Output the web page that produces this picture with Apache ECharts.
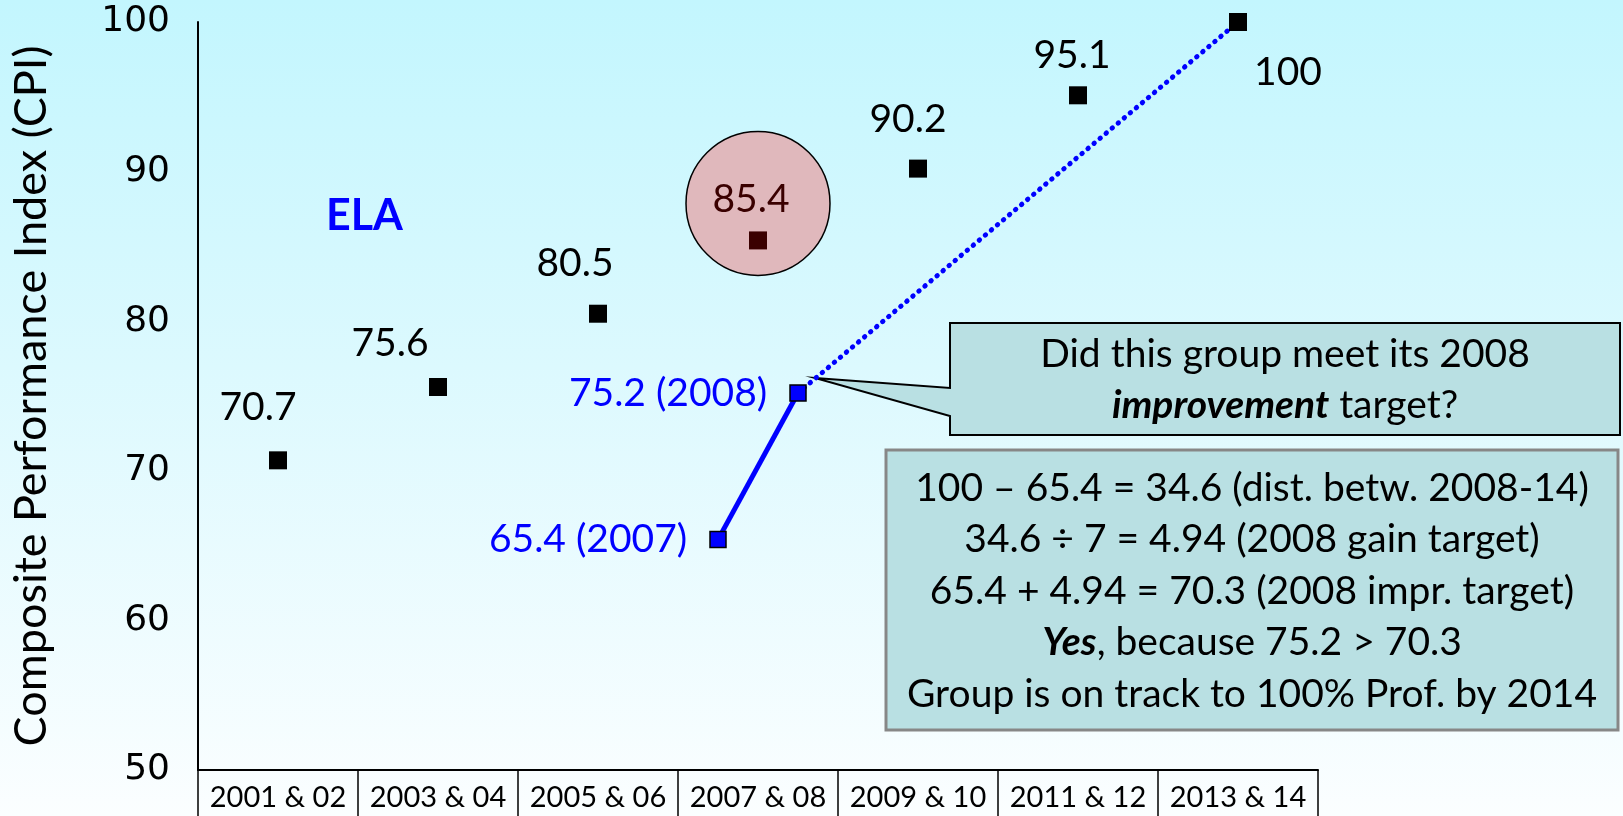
<!DOCTYPE html>
<html>
<head>
<meta charset="utf-8">
<title>ELA CPI</title>
<script src="https://cdn.jsdelivr.net/npm/echarts@6/dist/echarts.min.js"></script>
<style>
html, body { margin: 0; padding: 0; }
#main {
  width: 1623px;
  height: 816px;
  background: linear-gradient(to bottom, #c3f6fe 0%, #dcf9fe 45%, #fbfeff 100%);
}
</style>
</head>
<body>
<div id="main"></div>
<script>
// data
const periods = ['2001 & 02', '2003 & 04', '2005 & 06', '2007 & 08', '2009 & 10', '2011 & 12', '2013 & 14'];
const cpi = [70.7, 75.6, 80.5, 85.4, 90.2, 95.1, 100];
const groupYears = [2007, 2008];
const groupCpi = [65.4, 75.2];
const goalYear = 2013.5;   // middle of the "2013 & 14" period
const goalCpi = 100;
const yMin = 50, yMax = 100, yStep = 10;

const calloutLines = ['Did this group meet its 2008', '{bi|improvement} target?'];
const noteLines = [
  '100 \u2013 65.4 = 34.6 (dist. betw. 2008-14)',
  '34.6 \u00f7 7 = 4.94 (2008 gain target)',
  '65.4 + 4.94 = 70.3 (2008 impr. target)',
  '{bi|Yes}, because 75.2 > 70.3',
  'Group is on track to 100% Prof. by 2014'
];

const body = 'Lato';
const blue = '#0000ff';

// where each black value label sits relative to its marker
const labelOffsets = [[-20, -53], [-48, -44], [-23, -50], [-7, -41], [-10, -49], [-6, -40], [50, 50]];

var dom = document.getElementById('main');
var myChart = echarts.init(dom, null, { renderer: 'canvas' });

const cpiData = periods.map((p, i) => {
  const dark = i === 3;
  return {
    value: [p, cpi[i]],
    itemStyle: { color: dark ? '#3a0000' : '#000' },
    label: { offset: labelOffsets[i], color: dark ? '#3a0000' : '#000' }
  };
});

const groupData = groupYears.map((y, i) => [y, groupCpi[i]]);

var option = {
  animation: false,
  grid: { left: 198, right: 305, top: 22, bottom: 46 },
  xAxis: [
    {
      type: 'category',
      data: periods,
      boundaryGap: true,
      axisLine: { lineStyle: { color: '#000', width: 2 } },
      axisTick: { show: true, interval: 0, length: 48, lineStyle: { color: '#000', width: 1.5 } },
      axisLabel: { interval: 0, margin: 13, fontSize: 29, fontFamily: body, color: '#000' }
    },
    { type: 'value', min: 2000.5, max: 2014.5, show: false }
  ],
  yAxis: {
    type: 'value',
    min: yMin,
    max: yMax,
    interval: yStep,
    name: 'Composite Performance Index (CPI)',
    nameLocation: 'middle',
    nameGap: 144,
    nameTextStyle: { fontSize: 45, fontFamily: body, color: '#000' },
    axisLine: { show: true, lineStyle: { color: '#000', width: 2 } },
    axisTick: { show: false },
    splitLine: { show: false },
    axisLabel: { fontSize: 36, fontFamily: 'DejaVu Sans', color: '#000', margin: 28 }
  },
  series: [
    {
      // pink highlight round the 2007 & 08 value
      type: 'scatter',
      silent: true,
      z: 1,
      data: [[periods[3], cpi[3]]],
      symbol: 'circle',
      symbolSize: 144,
      symbolOffset: [0, -37],
      itemStyle: { color: '#e0b8bc', borderColor: '#000', borderWidth: 1.5, opacity: 1 }
    },
    {
      type: 'line',
      xAxisIndex: 1,
      z: 2,
      data: [groupData[1], [goalYear, goalCpi]],
      symbol: 'none',
      lineStyle: { color: blue, width: 5, type: [0.5, 7.4], cap: 'round' }
    },
    {
      type: 'line',
      xAxisIndex: 1,
      z: 3,
      data: groupData,
      symbol: 'rect',
      symbolSize: 16,
      lineStyle: { color: blue, width: 5 },
      itemStyle: { color: blue, borderColor: '#000', borderWidth: 1.5 },
      label: {
        show: true,
        position: 'left',
        distance: 22,
        fontSize: 39,
        fontFamily: body,
        color: blue,
        formatter: p => p.value[1] + ' (' + p.value[0] + ')'
      }
    },
    {
      type: 'scatter',
      z: 4,
      data: cpiData,
      symbol: 'rect',
      symbolSize: 18,
      itemStyle: { opacity: 1 },
      label: {
        show: true,
        position: 'inside',
        fontSize: 39,
        fontFamily: body,
        formatter: p => p.value[1]
      }
    }
  ]
};

myChart.setOption(option);

// annotations, the callout points at the 2008 value
const tip = myChart.convertToPixel({ xAxisIndex: 1, yAxisIndex: 0 }, groupData[1]);
const tx = tip[0] + 17, ty = tip[1] - 15;
const richBi = { bi: { fontStyle: 'italic', fontWeight: 'bold', fontSize: 39, fontFamily: body, fill: '#000' } };

myChart.setOption({
  graphic: [
    {
      type: 'text',
      left: 326,
      top: 195,
      style: { text: 'ELA', fill: blue, fontSize: 43, fontWeight: 'bold', fontFamily: body }
    },
    {
      type: 'polygon',
      shape: { points: [[950, 323], [1620, 323], [1620, 435], [950, 435], [950, 416], [tx, ty], [950, 388]] },
      style: { fill: '#b9e0e3', stroke: '#000', lineWidth: 2 }
    },
    {
      type: 'text',
      x: 1285,
      y: 380,
      style: {
        text: calloutLines.join('\n'),
        align: 'center',
        verticalAlign: 'middle',
        fontSize: 39,
        fontFamily: body,
        lineHeight: 51,
        fill: '#000',
        rich: richBi
      }
    },
    {
      type: 'rect',
      shape: { x: 886, y: 450, width: 732, height: 280 },
      style: { fill: '#b9e0e3', stroke: '#878787', lineWidth: 3 }
    },
    {
      type: 'text',
      x: 1252,
      y: 591,
      style: {
        text: noteLines.join('\n'),
        align: 'center',
        verticalAlign: 'middle',
        fontSize: 39,
        fontFamily: body,
        lineHeight: 51.5,
        fill: '#000',
        rich: richBi
      }
    }
  ]
});

window.addEventListener('resize', myChart.resize);
</script>
</body>
</html>
